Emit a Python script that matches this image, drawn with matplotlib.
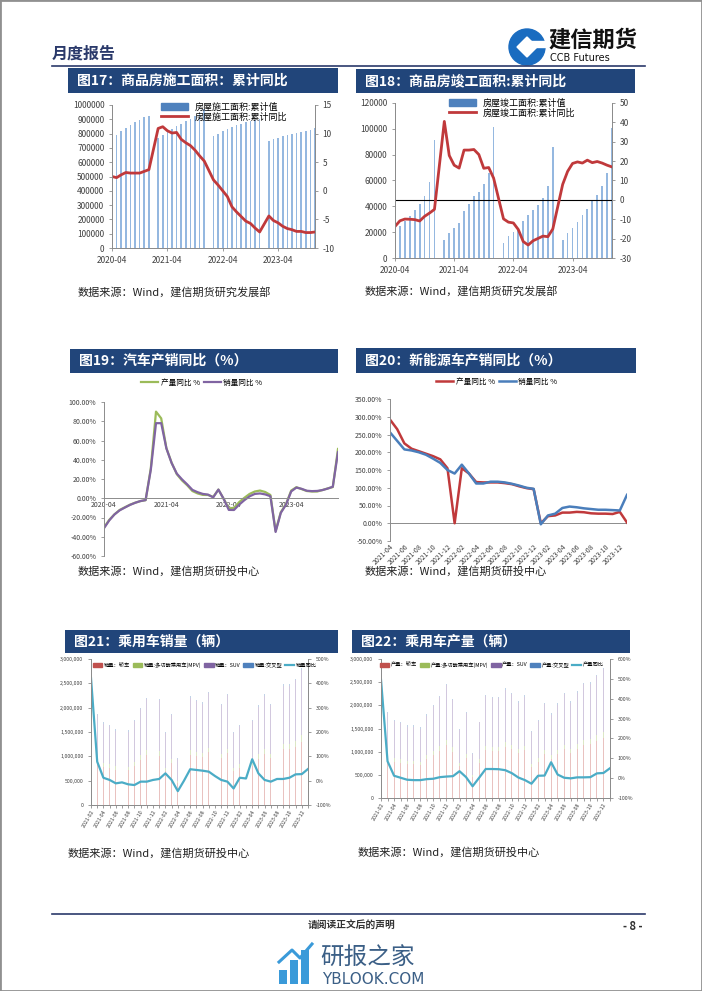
import matplotlib
matplotlib.use('Agg')
import matplotlib.pyplot as plt
from matplotlib.patches import Rectangle, Ellipse, Polygon, Patch
from matplotlib.lines import Line2D
from matplotlib.ticker import FuncFormatter
import pandas as pd

plt.rcParams['font.family'] = ['Noto Sans CJK SC', 'DejaVu Sans']
plt.rcParams['axes.unicode_minus'] = False

# ---------------- data ----------------
# fig17 / fig18: cumulative values, Jan missing (Jan-Feb combined)
months_re = [str(p) for p in pd.period_range('2020-04', '2023-12', freq='M') if p.month != 1]

build_area = [775000, 792000, 815000, 838000, 858000, 878000, 898000, 915000, 926000,
              766000, 790000, 808000, 830000, 850000, 870000, 888000, 905000, 920000, 940000, 975000,
              785000, 800000, 815000, 830000, 848000, 860000, 870000, 880000, 890000, 895000, 905000,
              750000, 760000, 770000, 780000, 790000, 796000, 806000, 812000, 818000, 826000, 838000]
build_yoy = [2.5, 2.3, 2.8, 3.2, 3.1, 3.1, 3.1, 3.4, 3.7,
             10.9, 11.2, 10.5, 10.1, 10.2, 9.0, 8.4, 7.9, 7.1, 6.1, 5.2,
             1.9, 1.0, 0.0, -1.0, -2.8, -3.7, -4.5, -5.3, -5.7, -6.5, -7.2,
             -4.4, -5.2, -5.6, -6.2, -6.6, -6.8, -7.1, -7.1, -7.3, -7.3, -7.2]

done_area = [19300, 24500, 28600, 32800, 37200, 42000, 48000, 59000, 91200,
             14000, 19000, 23000, 27000, 36000, 42000, 48000, 51000, 57000, 66000, 101400,
             12000, 17000, 20000, 23000, 28600, 33300, 36800, 40800, 46600, 56000, 86200,
             14000, 19400, 23000, 28000, 33500, 38000, 44000, 49000, 55500, 66000, 100600]
done_yoy = [-13.7, -10.8, -9.9, -10.0, -10.2, -10.9, -8.5, -6.8, -4.9,
            40.5, 22.9, 17.9, 16.4, 25.7, 25.7, 26.0, 23.4, 16.3, 16.7, 11.2,
            -9.8, -11.5, -11.9, -15.3, -21.5, -23.3, -21.1, -19.9, -18.7, -19.0, -15.0,
            8.0, 14.7, 18.8, 19.6, 19.0, 20.5, 19.2, 19.8, 19.0, 17.9, 17.0]
re_ticks = ['2020-04', '2021-04', '2022-04', '2023-04']

# fig19: auto cumulative yoy, 2020-04 .. 2024-01
auto_months = [str(p) for p in pd.period_range('2020-04', '2024-01', freq='M')]
auto_prod = [-30.4, -22.5, -16.8, -12.2, -9.4, -6.7, -4.6, -3.0, -2.0,
             31.0, 90.0, 83.0, 52.0, 37.0, 25.0, 18.5, 13.5, 7.5, 5.0, 3.5, 3.4,
             1.4, 9.0, -0.5, -10.5, -10.0, -4.0, 0.5, 4.5, 7.0, 8.0, 6.5, 3.4,
             -34.0, -14.5, -6.0, 8.0, 11.5, 9.5, 7.5, 7.0, 7.0, 8.5, 10.2, 11.6,
             51.2]
auto_sales = [-31.1, -23.1, -16.9, -12.6, -9.7, -6.9, -4.7, -2.9, -1.9,
              29.5, 78.0, 78.0, 51.8, 36.6, 25.6, 19.6, 14.4, 8.7, 6.3, 4.5, 3.8,
              0.9, 9.0, -0.5, -12.1, -12.2, -6.6, -2.0, 2.0, 4.5, 5.0, 4.0, 2.1,
              -35.0, -15.2, -6.7, 7.1, 11.1, 9.8, 7.8, 7.4, 7.6, 8.5, 10.0, 12.0,
              47.9]

# fig20: NEV yoy, 2021-04 .. 2024-01
nev_months = [str(p) for p in pd.period_range('2021-04', '2024-01', freq='M')]
nev_prod = [292, 265, 225, 210, 203, 196, 189, 180, 155,
            0, 155, 140, 116, 115, 115, 115, 113, 110, 104, 99, 96,
            0, 20, 22, 30, 30, 32, 31, 28, 27, 27, 26, 32,
            2]
nev_sales = [256, 232, 208, 205, 200, 193, 182, 170, 150,
             140, 165, 140, 112, 112, 117, 117, 115, 111, 106, 100, 97,
             -3, 22, 27, 43, 47, 45, 42, 40, 38, 38, 37, 36,
             80]

# fig21 / fig22: passenger cars, 2021-02 .. 2024-01 (10k units)
pc_months = [str(p) for p in pd.period_range('2021-02', '2024-01', freq='M')]
sale_sedan = [59, 87, 79, 77, 72, 71, 71, 81, 93, 102, 112, 101, 69, 87, 45, 76, 103, 100, 98, 108,
              104, 96, 106, 69, 76, 93, 81, 95, 105, 96, 106, 115, 115, 120, 130, 102]
sale_mpv = [6, 9, 8, 8, 8, 7, 8, 8, 9, 10, 11, 10, 7, 8, 4, 7, 10, 9, 9, 10,
            10, 9, 10, 7, 8, 9, 8, 9, 10, 9, 10, 11, 11, 12, 13, 10]
sale_suv = [60, 88, 80, 77, 73, 72, 72, 83, 95, 105, 116, 104, 71, 89, 46, 78, 107, 104, 101, 112,
            108, 100, 110, 71, 79, 97, 84, 98, 110, 100, 110, 119, 119, 124, 135, 105]
sale_cross = [2, 3, 3, 3, 3, 3, 3, 3, 3, 3, 3, 3, 2, 3, 2, 2, 3, 3, 3, 3,
              3, 3, 3, 2, 2, 3, 2, 3, 3, 3, 3, 3, 3, 3, 3, 3]
sale_yoy = [422, 78, 12, 3, -11, -7, -15, -18, -4, -4, 3, 7, 30, 3, -43, 0, 47, 44, 41, 37,
            19, 3, -4, -32, 12, 9, 88, 30, 3, -4, 7, 7, 12, 26, 27, 48]

prod_sedan = [60, 86, 78, 76, 73, 73, 71, 84, 93, 102, 114, 99, 69, 86, 45, 76, 103, 101, 101, 110,
              105, 97, 103, 67, 78, 95, 85, 94, 105, 97, 106, 115, 116, 123, 130, 106]
prod_mpv = [6, 9, 8, 8, 7, 7, 7, 8, 9, 10, 11, 10, 7, 9, 4, 8, 10, 10, 10, 11,
            10, 9, 10, 7, 8, 9, 8, 9, 10, 9, 11, 11, 11, 12, 13, 11]
prod_suv = [61, 88, 80, 77, 74, 74, 72, 86, 96, 106, 118, 102, 71, 88, 46, 79, 107, 105, 105, 113,
            109, 100, 106, 69, 81, 98, 87, 98, 109, 100, 110, 119, 120, 128, 135, 110]
prod_cross = [3, 3, 3, 3, 3, 3, 3, 3, 3, 3, 3, 3, 2, 3, 2, 2, 3, 3, 3, 3,
              3, 3, 3, 2, 2, 3, 3, 3, 3, 3, 3, 3, 3, 3, 3, 3]
prod_yoy = [496, 85, 12, 2, -8, -10, -10, -5, -3, 5, 8, 10, 35, 5, -41, 2, 46, 46, 45, 40,
            25, 3, -10, -28, 12, 13, 80, 18, 2, -1, 4, 4, 5, 24, 26, 50]

# ---------------- page ----------------
W, H = 702, 991
NAVY = '#21457a'
GRAY = '#8c8c8c'
TXT = '#404040'
fig = plt.figure(figsize=(W / 100, H / 100), dpi=100)


def rect(x0, y0, x1, y1):
    return [x0 / W, 1 - y1 / H, (x1 - x0) / W, (y1 - y0) / H]


def fx(x):
    return x / W


def fy(y):
    return 1 - y / H


def title_bar(x0, y0, x1, y1, text):
    fig.add_artist(Rectangle((fx(x0), fy(y1)), (x1 - x0) / W, (y1 - y0) / H,
                             transform=fig.transFigure, color=NAVY, lw=0))
    fig.text(fx(x0 + 9), fy((y0 + y1) / 2), text, color='white', fontsize=10,
             fontweight='bold', va='center', ha='left')


def source(x, y, text):
    fig.text(fx(x), fy(y), text, fontsize=8, color='#222222', va='center', ha='left')


def style(ax, size):
    for s in ax.spines.values():
        s.set_color(GRAY)
        s.set_linewidth(0.7)
    ax.tick_params(labelsize=size, labelcolor=TXT, color=GRAY, length=2, width=0.6)


def mpos(m, start):
    y, mo = map(int, m.split('-'))
    y0, m0 = map(int, start.split('-'))
    return (y - y0) * 12 + mo - m0


# page frame, header and footer
fig.add_artist(Rectangle((0, 0), 1, 1, transform=fig.transFigure, fill=False, ec='#909090', lw=2))
fig.text(fx(52), fy(54), '月度报告', fontsize=11.5, fontweight='bold', color='#2b3a6b', va='center')
fig.add_artist(Line2D([fx(52), fx(645)], [fy(66), fy(66)], transform=fig.transFigure, color='#2b3a6b', lw=1.2))
fig.add_artist(Ellipse((fx(527), fy(47)), 36 / W, 36 / H, transform=fig.transFigure, color='#1a6cc0'))
fig.add_artist(Polygon([(fx(527), fy(37)), (fx(537), fy(47)), (fx(527), fy(57)), (fx(517), fy(47))],
                       closed=True, transform=fig.transFigure, color='white'))
fig.add_artist(Rectangle((fx(530), fy(47)), 16 / W, 6 / H, transform=fig.transFigure, color='white'))
fig.text(fx(548), fy(40), '建信期货', fontsize=16, fontweight='bold', color='#111111', va='center')
fig.text(fx(550), fy(58), 'CCB Futures', fontsize=7, color='#111111', va='center', family='DejaVu Sans')

fig.add_artist(Line2D([fx(52), fx(645)], [fy(914), fy(914)], transform=fig.transFigure, color='#2b3a6b', lw=1.2))
fig.text(fx(352), fy(926), '请阅读正文后的声明', fontsize=7, fontweight='bold', color='#333333', ha='center', va='center')
fig.text(fx(633), fy(926), '- 8 -', fontsize=8, fontweight='bold', color='#333333', ha='center', va='center')
# watermark
for bx, bh in [(279, 14), (290, 24), (301, 34)]:
    fig.add_artist(Rectangle((fx(bx), fy(984)), 8 / W, bh / H, transform=fig.transFigure, color='#3a9ad9', lw=0))
fig.add_artist(Line2D([fx(279), fx(292), fx(300), fx(312)], [fy(962), fy(950), fy(958), fy(944)],
                      transform=fig.transFigure, color='#3a9ad9', lw=2.2))
fig.text(fx(320), fy(957), '研报之家', fontsize=17, color='#3b5f86', va='center', ha='left')
fig.text(fx(322), fy(979), 'YBLOOK.COM', fontsize=11, color='#3b5f86', va='center', ha='left', family='DejaVu Sans')

plain = FuncFormatter(lambda v, _: f'{int(v)}')

# ---------------- fig17 ----------------
title_bar(68, 68, 338, 93, '图17：商品房施工面积：累计同比')
pos = [mpos(m, '2020-04') for m in months_re]
ax = fig.add_axes(rect(112, 105, 315, 248))
ax.bar(pos, build_area, width=0.35, color='#95b8e0')
ax.set_xlim(0, 44)
ax.set_ylim(0, 1000000)
ax.set_yticks(range(0, 1000001, 100000))
ax.yaxis.set_major_formatter(plain)
ax.set_xticks([mpos(t, '2020-04') for t in re_ticks])
ax.set_xticklabels(re_ticks)
ax2 = ax.twinx()
ax2.plot(pos, build_yoy, color='#c0393b', lw=2)
ax2.set_ylim(-10, 15)
ax2.set_yticks(range(-10, 16, 5))
for a in (ax, ax2):
    style(a, 6)
    a.spines['top'].set_visible(False)
fig.legend([Patch(color='#4f81bd'), Line2D([], [], color='#c0393b', lw=2)],
           ['房屋施工面积:累计值', '房屋施工面积:累计同比'], loc='center',
           bbox_to_anchor=(fx(224), fy(112)), frameon=False, fontsize=6.5,
           handlelength=3, handleheight=0.8, labelspacing=0.1, borderpad=0)
source(78, 292, '数据来源：Wind，建信期货研究发展部')

# ---------------- fig18 ----------------
title_bar(356, 69, 635, 93, '图18：商品房竣工面积:累计同比')
ax = fig.add_axes(rect(395, 103, 612, 258))
ax.bar(pos, done_area, width=0.35, color='#95b8e0')
ax.set_xlim(0, 44)
ax.set_ylim(0, 120000)
ax.set_yticks(range(0, 120001, 20000))
ax.yaxis.set_major_formatter(plain)
ax.set_xticks([mpos(t, '2020-04') for t in re_ticks])
ax.set_xticklabels(re_ticks)
ax2 = ax.twinx()
ax2.axhline(0, color='black', lw=0.8)
ax2.plot(pos, done_yoy, color='#c0393b', lw=2)
ax2.set_ylim(-30, 50)
ax2.set_yticks(range(-30, 51, 10))
for a in (ax, ax2):
    style(a, 6)
    a.spines['top'].set_visible(False)
fig.legend([Patch(color='#4f81bd'), Line2D([], [], color='#c0393b', lw=2)],
           ['房屋竣工面积:累计值', '房屋竣工面积:累计同比'], loc='center',
           bbox_to_anchor=(fx(512), fy(108)), frameon=False, fontsize=6.5,
           handlelength=3, handleheight=0.8, labelspacing=0.1, borderpad=0)
source(365, 291, '数据来源：Wind，建信期货研究发展部')

# ---------------- fig19 ----------------
title_bar(70, 349, 338, 373, '图19：汽车产销同比（%）')
ax = fig.add_axes(rect(104, 402, 338, 556))
p19 = list(range(len(auto_months)))
l1, = ax.plot(p19, auto_prod, color='#9bbb59', lw=1.6)
l2, = ax.plot(p19, auto_sales, color='#8064a2', lw=1.6)
ax.set_xlim(0, len(auto_months) - 1)
ax.set_ylim(-60, 100)
ax.set_yticks(range(-60, 101, 20))
ax.yaxis.set_major_formatter(FuncFormatter(lambda v, _: f'{v:.2f}%'))
ax.set_xticks([auto_months.index(t) for t in re_ticks])
ax.set_xticklabels(re_ticks)
style(ax, 5)
ax.spines['bottom'].set_position(('data', 0))
ax.spines['top'].set_visible(False)
ax.spines['right'].set_visible(False)
ax.tick_params(axis='x', length=0, pad=2)
fig.legend([l1, l2], ['产量同比 %', '销量同比 %'], loc='center', bbox_to_anchor=(fx(202), fy(383)),
           ncol=2, frameon=False, fontsize=5.5, handlelength=2.2, columnspacing=0.6, handletextpad=0.3)
source(78, 571, '数据来源：Wind，建信期货研投中心')

# ---------------- fig20 ----------------
title_bar(356, 348, 636, 373, '图20：新能源车产销同比（%）')
ax = fig.add_axes(rect(390, 399, 627, 541))
p20 = list(range(len(nev_months)))
ax.axhline(0, color=GRAY, lw=0.7)
l1, = ax.plot(p20, nev_prod, color='#c0393b', lw=1.8)
l2, = ax.plot(p20, nev_sales, color='#4a7ebb', lw=1.8)
ax.set_xlim(0, len(nev_months) - 1)
ax.set_ylim(-50, 350)
ax.set_yticks(range(-50, 351, 50))
ax.yaxis.set_major_formatter(FuncFormatter(lambda v, _: f'{v:.2f}%'))
ax.set_xticks(p20[::2])
ax.set_xticklabels(nev_months[::2], rotation=45, ha='right', rotation_mode='anchor')
style(ax, 5)
for s in ('top', 'right', 'bottom'):
    ax.spines[s].set_visible(False)
ax.tick_params(axis='x', length=0, pad=1)
fig.legend([l1, l2], ['产量同比 %', '销量同比 %'], loc='center', bbox_to_anchor=(fx(497), fy(382)),
           ncol=2, frameon=False, fontsize=5.5, handlelength=2.2, columnspacing=0.6, handletextpad=0.3)
source(365, 571, '数据来源：Wind，建信期货研投中心')


# ---------------- fig21 / fig22 ----------------
def pc_chart(box, sedan, mpv, suv, cross, yoy, names, yr, legend_xy):
    ax = fig.add_axes(rect(*box))
    p = list(range(len(pc_months)))
    cols = ['#c0504d', '#9bbb59', '#8064a2', '#4f81bd']
    bottom = [0] * len(p)
    handles = []
    for vals, c in zip([sedan, mpv, suv, cross], cols):
        v = [x * 10000 for x in vals]
        ax.bar(p, v, bottom=bottom, width=0.15, color=c, alpha=0.35, lw=0)
        bottom = [b + x for b, x in zip(bottom, v)]
        handles.append(Patch(color=c))
    ax.set_xlim(0, len(p) - 1)
    ax.set_ylim(0, 3000000)
    ax.set_yticks(range(0, 3000001, 500000))
    ax.yaxis.set_major_formatter(FuncFormatter(lambda v, _: f'{int(v):,}'))
    ax.set_xticks(p, minor=True)
    ax.set_xticks(p[:-1:2])
    ax.set_xticklabels(pc_months[:-1:2], rotation=60, ha='right', rotation_mode='anchor')
    ax2 = ax.twinx()
    ax2.plot(p, yoy, color='#4bacc6', lw=1.6)
    ax2.set_ylim(-100, yr)
    ax2.set_yticks(range(-100, yr + 1, 100))
    ax2.yaxis.set_major_formatter(FuncFormatter(lambda v, _: f'{int(v)}%'))
    for a in (ax, ax2):
        style(a, 3.8)
        a.spines['top'].set_visible(False)
    ax.tick_params(axis='x', which='both', length=2, color=GRAY, pad=1)
    handles.append(Line2D([], [], color='#4bacc6', lw=1.6))
    fig.legend(handles, names, loc='center', bbox_to_anchor=(fx(legend_xy[0]), fy(legend_xy[1])),
               ncol=5, frameon=False, fontsize=3.8, handlelength=1.8, handleheight=0.8,
               columnspacing=0.5, handletextpad=0.3)


title_bar(65, 630, 338, 653, '图21：乘用车销量（辆）')
pc_chart((91, 659, 308, 805), sale_sedan, sale_mpv, sale_suv, sale_cross, sale_yoy,
         ['销量：轿车', '销量:多功能乘用车(MPV)', '销量：SUV', '销量:交叉型', '销量同比'], 500, (205, 665))
source(68, 853, '数据来源：Wind，建信期货研投中心')

title_bar(352, 630, 630, 653, '图22：乘用车产量（辆）')
pc_chart((381, 659, 610, 798), prod_sedan, prod_mpv, prod_suv, prod_cross, prod_yoy,
         ['产量：轿车', '产量:多功能乘用车(MPV)', '产量：SUV', '产量:交叉型', '产量同比'], 600, (492, 665))
source(358, 852, '数据来源：Wind，建信期货研投中心')

fig.savefig('out.png', dpi=100)
